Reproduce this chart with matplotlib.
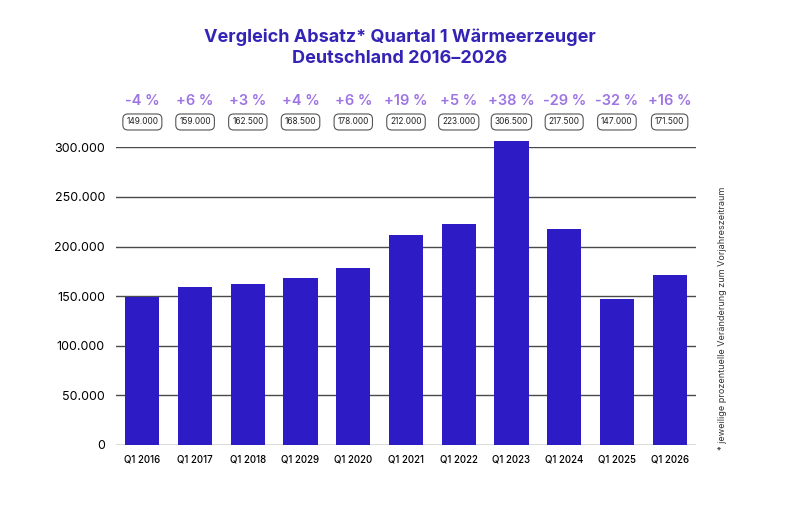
import matplotlib
matplotlib.use('Agg')
import matplotlib.pyplot as plt
import matplotlib.transforms as mtransforms
from matplotlib.ticker import FuncFormatter

# Data
categories = ['Q1 2016', 'Q1 2017', 'Q1 2018', 'Q1 2029', 'Q1 2020', 'Q1 2021',
              'Q1 2022', 'Q1 2023', 'Q1 2024', 'Q1 2025', 'Q1 2026']
values = [149000, 159000, 162500, 168500, 178000, 212000,
          223000, 306500, 217500, 147000, 171500]
changes = ['-4 %', '+6 %', '+3 %', '+4 %', '+6 %', '+19 %',
           '+5 %', '+38 %', '-29 %', '-32 %', '+16 %']
yticks = [0, 50000, 100000, 150000, 200000, 250000, 300000]

bar_color = '#2D1BC6'
title_color = '#3424B5'
pct_color = '#9E74E4'

plt.rcParams['font.family'] = ['Inter', 'DejaVu Sans']

fig = plt.figure(figsize=(8, 5.13), dpi=100)
ax = fig.add_axes([0.145, 0.1326, 0.725, 0.5803])

x = list(range(len(categories)))
ax.set_axisbelow(True)
ax.yaxis.grid(True, color='#4a4a4a', linewidth=1.0)
bars = ax.bar(x, values, width=0.65, color=bar_color, zorder=3, clip_on=False)

ax.set_xlim(-0.5, len(categories) - 0.5)
ax.set_ylim(0, 300000)
ax.set_yticks(yticks)
ax.yaxis.set_major_formatter(FuncFormatter(lambda v, p: f'{int(v):,}'.replace(',', '.')))
ax.set_xticks(x)
ax.set_xticklabels(categories, fontsize=7, fontweight='medium')
ax.tick_params(axis='y', labelsize=9, length=0, pad=8)
ax.tick_params(axis='x', length=0, pad=7)
for s in ax.spines.values():
    s.set_visible(False)

# Labels above the chart
trans = mtransforms.blended_transform_factory(ax.transData, ax.transAxes)
for xi, v, c in zip(x, values, changes):
    ax.text(xi, 1.155, c, transform=trans, ha='center', va='center',
            fontsize=10.5, fontweight='semibold', color=pct_color)
    ax.text(xi, 1.085, f'{v:,}'.replace(',', '.'), transform=trans,
            ha='center', va='center', fontsize=6, color='#222222',
            bbox=dict(boxstyle='round,pad=0.42,rounding_size=0.6',
                      fc='white', ec='#555555', lw=0.8))

# Title
fig.text(0.5, 0.928, 'Vergleich Absatz* Quartal 1 Wärmeerzeuger',
         ha='center', va='center', fontsize=13, fontweight='bold', color=title_color)
fig.text(0.5, 0.885, 'Deutschland 2016\u20132026',
         ha='center', va='center', fontsize=13, fontweight='bold', color=title_color)

# Side note
fig.text(0.903, 0.38, '* jeweilige prozentuelle Veränderung zum Vorjahreszeitraum',
         rotation=90, ha='center', va='center', fontsize=6.5, color='#333333')

fig.savefig('out.png', dpi=100)
